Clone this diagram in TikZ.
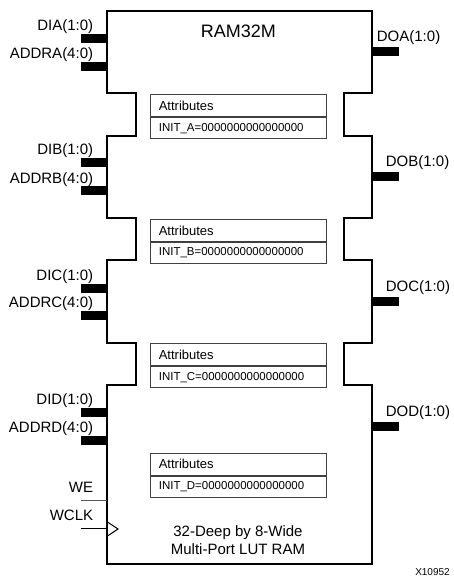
\documentclass[tikz,border=0pt]{standalone}
\usepackage{fontspec}
\setmainfont{Liberation Sans}
\begin{document}
\begin{tikzpicture}[x=1pt,y=-1pt,
  body/.style={line width=2pt, line join=miter},
  bus/.style={line width=9pt},
  thin/.style={line width=1pt},
  pinlbl/.style={font=\fontsize{15}{18}\selectfont, inner sep=0pt},
  attrbox/.style={draw=black!75, line width=0.9pt, minimum width=175.7pt,
    text width=159pt, align=left, inner xsep=8.3pt, inner ysep=0pt,
    anchor=north west},
  attrhead/.style={attrbox, minimum height=22pt, font=\fontsize{13}{15}\selectfont},
  attrinit/.style={attrbox, minimum height=21pt, font=\fontsize{11.5}{14}\selectfont},
  desc/.style={font=\fontsize{15}{18}\selectfont, inner sep=0pt, anchor=base}
]
\useasboundingbox (0,0) rectangle (453,577);

% body outline
\draw[body] (107,11) -- (372,11) -- (372,93) -- (344,93) -- (344,136) -- (372,136)
  -- (372,218) -- (344,218) -- (344,260) -- (372,260)
  -- (372,343) -- (344,343) -- (344,385) -- (372,385)
  -- (372,564) -- (107,564) -- (107,385) -- (136,385) -- (136,343) -- (107,343)
  -- (107,260) -- (136,260) -- (136,218) -- (107,218)
  -- (107,136) -- (136,136) -- (136,93) -- (107,93) -- cycle;

\node[font=\fontsize{18}{20}\selectfont, inner sep=0pt, anchor=base] (title) at (238.3,37.7) {RAM32M};

% pins per section
\foreach \L/\di/\ad/\dout/\dox/\at in {A/39/66.5/51.5/376.7/94.3, B/163/191/177/385.7/219,
    C/288/315/301.5/385.7/343.3, D/412.5/440/426.5/385.7/452.7} {
  \coordinate (di\L) at (107,\di);
  \coordinate (dipin\L) at (80.7,\di);
  \coordinate (ad\L) at (107,\ad);
  \coordinate (adpin\L) at (80.7,\ad);
  \coordinate (do\L) at (372,\dout);
  \coordinate (dopin\L) at (398.7,\dout);
  \draw[bus] (dipin\L) -- (di\L);
  \draw[bus] (adpin\L) -- (ad\L);
  \draw[bus] (do\L) -- (dopin\L);
  \node[pinlbl, anchor=base east] (lbldi\L) at (93.3,\di-8) {DI\L(1:0)};
  \node[pinlbl, anchor=base east] (lblad\L) at (93.3,\ad-8) {ADDR\L(4:0)};
  \node[pinlbl, anchor=base west] (lbldo\L) at (\dox,\dout-10) {DO\L(1:0)};
  \node[attrhead] (att\L) at (150,\at) {Attributes};
  \node[attrinit] (init\L) at (att\L.south west) {INIT\_\L=0000000000000000};
}

% WE and WCLK
\coordinate (we) at (107,500.7);
\coordinate (wepin) at (80.7,500.7);
\coordinate (wclk) at (107,528.7);
\coordinate (wclkpin) at (80.7,528.7);
\draw[thin, black!65] (wepin) -- (we);
\draw[thin] (wclkpin) -- (wclk);
\draw[thin, line join=miter] (107,521.7) -- (118,529) -- (107,536.3);
\node[pinlbl, anchor=base east] (lblwe) at (93.3,492.7) {WE};
\node[pinlbl, anchor=base east] (lblwclk) at (93.3,520.7) {WCLK};

% description
\node[desc] (desc1) at (238,536.7) {32-Deep by 8-Wide};
\node[desc] (desc2) at (238,554) {Multi-Port LUT RAM};

\node[font=\fontsize{10}{12}\selectfont, inner sep=0pt, anchor=base] (fig) at (432.5,575.5) {X10952};
\end{tikzpicture}
\end{document}
